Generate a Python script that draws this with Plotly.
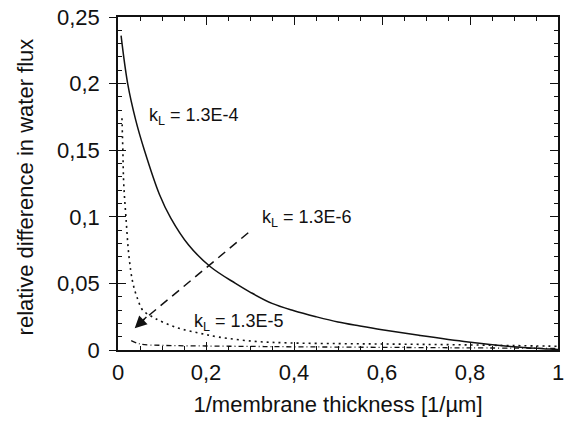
import plotly.graph_objects as go

# Relative difference in water flux vs. inverse membrane thickness
# for three values of the mass-transfer coefficient k_L.

x_k4 = [0.007, 0.022, 0.04, 0.06, 0.094, 0.12, 0.16, 0.21, 0.267, 0.30, 0.35,
        0.40, 0.45, 0.50, 0.55, 0.60, 0.684, 0.796, 0.908, 0.98, 1.0]
y_k4 = [0.236, 0.200, 0.173, 0.150, 0.117, 0.099, 0.079, 0.0625, 0.050, 0.0435,
        0.035, 0.0295, 0.025, 0.021, 0.018, 0.0152, 0.011, 0.006, 0.0022, 0.0007, 0.0004]

x_k5 = [0.009, 0.011, 0.013, 0.018, 0.025, 0.034, 0.045, 0.056, 0.083, 0.132,
        0.184, 0.229, 0.31, 0.39, 0.5, 0.6, 0.7, 0.8, 0.9, 1.0]
y_k5 = [0.174, 0.150, 0.125, 0.100, 0.070, 0.050, 0.038, 0.030, 0.024, 0.017,
        0.0127, 0.0097, 0.0065, 0.0053, 0.0048, 0.0045, 0.0042, 0.0038, 0.0033, 0.0028]

x_k6 = [0.03, 0.05, 0.1, 0.2, 0.3, 0.4, 0.6, 0.8, 1.0]
y_k6 = [0.007, 0.0045, 0.0035, 0.003, 0.0027, 0.0024, 0.002, 0.0016, 0.0012]

x_tickvals = [0, 0.2, 0.4, 0.6, 0.8, 1]
x_ticktext = ["0", "0,2", "0,4", "0,6", "0,8", "1"]
y_tickvals = [0, 0.05, 0.1, 0.15, 0.2, 0.25]
y_ticktext = ["0", "0,05", "0,1", "0,15", "0,2", "0,25"]

labels = [
    ("k<sub>L</sub> = 1.3E-4", 0.066, 0.175),
    ("k<sub>L</sub> = 1.3E-6", 0.322, 0.099),
    ("k<sub>L</sub> = 1.3E-5", 0.168, 0.021),
]
arrow_tail = (0.296, 0.088)
arrow_tip = (0.038, 0.0164)

FONT = "Liberation Sans, Arial, sans-serif"

fig = go.Figure()
fig.add_trace(go.Scatter(x=x_k4, y=y_k4, mode="lines", line_shape="spline",
                         line=dict(color="#111", width=1.5), showlegend=False))
fig.add_trace(go.Scatter(x=x_k5, y=y_k5, mode="lines", line_shape="spline",
                         line=dict(color="#111", width=1.6, dash="2px,4px"),
                         showlegend=False))
fig.add_trace(go.Scatter(x=x_k6, y=y_k6, mode="lines", line_shape="spline",
                         line=dict(color="#111", width=1.3, dash="5px,3px,1px,3px"),
                         showlegend=False))
# invisible trace on the overlay axis so its outer ticks are drawn
fig.add_trace(go.Scatter(x=[0], y=[0], yaxis="y2", mode="markers",
                         marker=dict(opacity=0), showlegend=False, hoverinfo="skip"))

for text, lx, ly in labels:
    fig.add_annotation(x=lx, y=ly, text=text, showarrow=False, xanchor="left",
                       yanchor="middle", font=dict(family=FONT, size=18, color="#111"))

# dashed pointer to the k_L = 1.3E-6 curve
fig.add_shape(type="line", x0=arrow_tail[0], y0=arrow_tail[1],
              x1=arrow_tip[0] + 0.012, y1=arrow_tip[1] + 0.004,
              line=dict(color="#111", width=1.5, dash="9px,6px"))
fig.add_annotation(x=arrow_tip[0], y=arrow_tip[1], ax=arrow_tip[0] + 0.03,
                   ay=arrow_tip[1] + 0.0095, axref="x", ayref="y", text="",
                   showarrow=True, arrowhead=2, arrowsize=1.6, arrowwidth=1.5,
                   arrowcolor="#111")

# y-axis title, set further out than the automatic position
fig.add_annotation(text="relative difference in water flux", textangle=-90,
                   xref="paper", yref="paper", x=-0.21, y=0.49, xanchor="center",
                   yanchor="middle", showarrow=False,
                   font=dict(family=FONT, size=22, color="#111"))

fig.update_layout(
    width=569, height=424,
    margin=dict(l=118, r=5, t=15, b=74),
    paper_bgcolor="white", plot_bgcolor="white",
    font=dict(family=FONT, color="#111"),
    xaxis=dict(
        range=[0, 1], showgrid=False, zeroline=False,
        showline=True, linecolor="#111", linewidth=1.5, mirror="ticks",
        ticks="inside", ticklen=8, tickwidth=1.3, tickcolor="#111",
        tickvals=x_tickvals, ticktext=x_ticktext,
        tickfont=dict(size=22), ticklabelstandoff=2,
        minor=dict(ticks="inside", dtick=0.05, ticklen=4, tickcolor="#111", tickwidth=1),
        title=dict(text="1/membrane thickness [1/µm]", font=dict(size=22), standoff=12),
    ),
    yaxis=dict(
        range=[0, 0.25], showgrid=False, zeroline=False,
        showline=True, linecolor="#111", linewidth=1.5, mirror="ticks",
        ticks="inside", ticklen=8, tickwidth=1.3, tickcolor="#111",
        tickvals=y_tickvals, ticktext=y_ticktext,
        tickfont=dict(size=22), ticklabelstandoff=12,
        minor=dict(ticks="inside", dtick=0.01, ticklen=4, tickcolor="#111", tickwidth=1),
    ),
    yaxis2=dict(
        range=[0, 0.25], overlaying="y", side="left", anchor="x",
        showgrid=False, zeroline=False, showline=False,
        ticks="outside", ticklen=8, tickwidth=1.3, tickcolor="#111",
        tickvals=y_tickvals, showticklabels=False,
    ),
)

fig.write_html("out.html")
